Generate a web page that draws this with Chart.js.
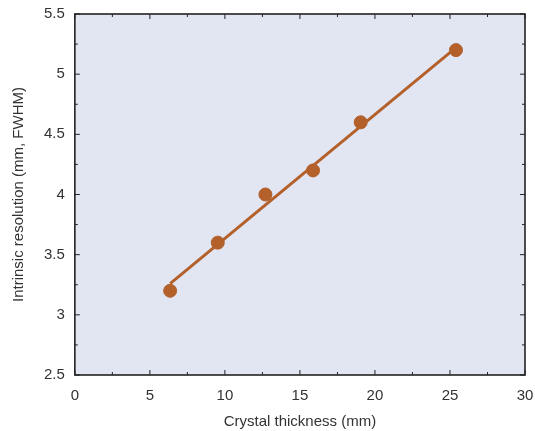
<!DOCTYPE html>
<html>
<head>
<meta charset="utf-8">
<script src="https://cdn.jsdelivr.net/npm/chart.js@4"></script>
<style>
  html, body { margin: 0; padding: 0; background: #fff; }
  #wrap { width: 535px; height: 431px; }
</style>
</head>
<body>
<div id="wrap"><canvas id="resChart"></canvas></div>
<script>
// crystal thickness (mm) and measured intrinsic resolution (mm FWHM)
const thickness = [6.35, 9.525, 12.7, 15.875, 19.05, 25.4];
const resolution = [3.2, 3.6, 4.0, 4.2, 4.6, 5.2];
// fitted line end points
const fitX = [6.35, 25.4];
const fitY = [3.26, 5.22];

const xTicks = [0, 5, 10, 15, 20, 25, 30];
const yTicks = [2.5, 3, 3.5, 4, 4.5, 5, 5.5];
const xMinor = [2.5, 7.5, 12.5, 17.5, 22.5, 27.5];
const yMinor = [2.75, 3.25, 3.75, 4.25, 4.75, 5.25];

const brown = '#b4602b';
const font = { family: 'Liberation Sans', size: 15 };

const frame = {
  id: 'frame',
  beforeDraw(chart) {
    const { ctx, chartArea: a } = chart;
    ctx.save();
    ctx.fillStyle = '#e2e6f3';
    ctx.fillRect(a.left, a.top, a.right - a.left, a.bottom - a.top);
    ctx.restore();
  },
  beforeDatasetsDraw(chart) {
    const { ctx, chartArea: a, scales } = chart;
    ctx.save();
    ctx.strokeStyle = '#222';
    ctx.lineWidth = 1;
    const tick = (vals, len) => {
      vals.forEach(v => {
        const px = scales.x.getPixelForValue(v);
        ctx.beginPath();
        ctx.moveTo(px, a.bottom); ctx.lineTo(px, a.bottom - len);
        ctx.moveTo(px, a.top); ctx.lineTo(px, a.top + len);
        ctx.stroke();
      });
    };
    const ytick = (vals, len) => {
      vals.forEach(v => {
        const py = scales.y.getPixelForValue(v);
        ctx.beginPath();
        ctx.moveTo(a.left, py); ctx.lineTo(a.left + len, py);
        ctx.moveTo(a.right, py); ctx.lineTo(a.right - len, py);
        ctx.stroke();
      });
    };
    tick(xTicks, 5); tick(xMinor, 3);
    ytick(yTicks, 5); ytick(yMinor, 3);
    ctx.lineWidth = 1.6;
    ctx.strokeRect(a.left, a.top, a.right - a.left, a.bottom - a.top);
    ctx.restore();
  }
};

new Chart(document.getElementById('resChart'), {
  type: 'scatter',
  data: {
    datasets: [
      {
        label: 'fit',
        data: fitX.map((x, i) => ({ x, y: fitY[i] })),
        showLine: true,
        borderColor: brown,
        borderWidth: 3,
        pointRadius: 0
      },
      {
        label: 'measured',
        data: thickness.map((x, i) => ({ x, y: resolution[i] })),
        backgroundColor: brown,
        borderColor: brown,
        pointRadius: 6.5
      }
    ]
  },
  options: {
    responsive: true,
    maintainAspectRatio: false,
    animation: false,
    layout: { padding: { left: 10, right: 10, top: 14, bottom: 0 } },
    plugins: { legend: { display: false }, tooltip: { enabled: false } },
    scales: {
      x: {
        type: 'linear', min: 0, max: 30,
        afterBuildTicks: s => { s.ticks = xTicks.map(v => ({ value: v })); },
        afterFit: s => { s.paddingRight = 0; },
        ticks: { color: '#333', font, padding: 4, callback: v => String(v) },
        grid: { display: false },
        border: { display: false },
        title: { display: true, text: 'Crystal thickness (mm)', color: '#333', font, padding: { top: 4, bottom: 0 } }
      },
      y: {
        type: 'linear', min: 2.5, max: 5.5,
        afterBuildTicks: s => { s.ticks = yTicks.map(v => ({ value: v })); },
        afterFit: s => { s.paddingTop = 0; },
        ticks: { color: '#333', font, padding: 2, callback: v => String(v) },
        grid: { display: false },
        border: { display: false },
        title: { display: true, text: 'Intrinsic resolution (mm, FWHM)', color: '#333', font, padding: { top: 0, bottom: 14 } }
      }
    }
  },
  plugins: [frame]
});
</script>
</body>
</html>
